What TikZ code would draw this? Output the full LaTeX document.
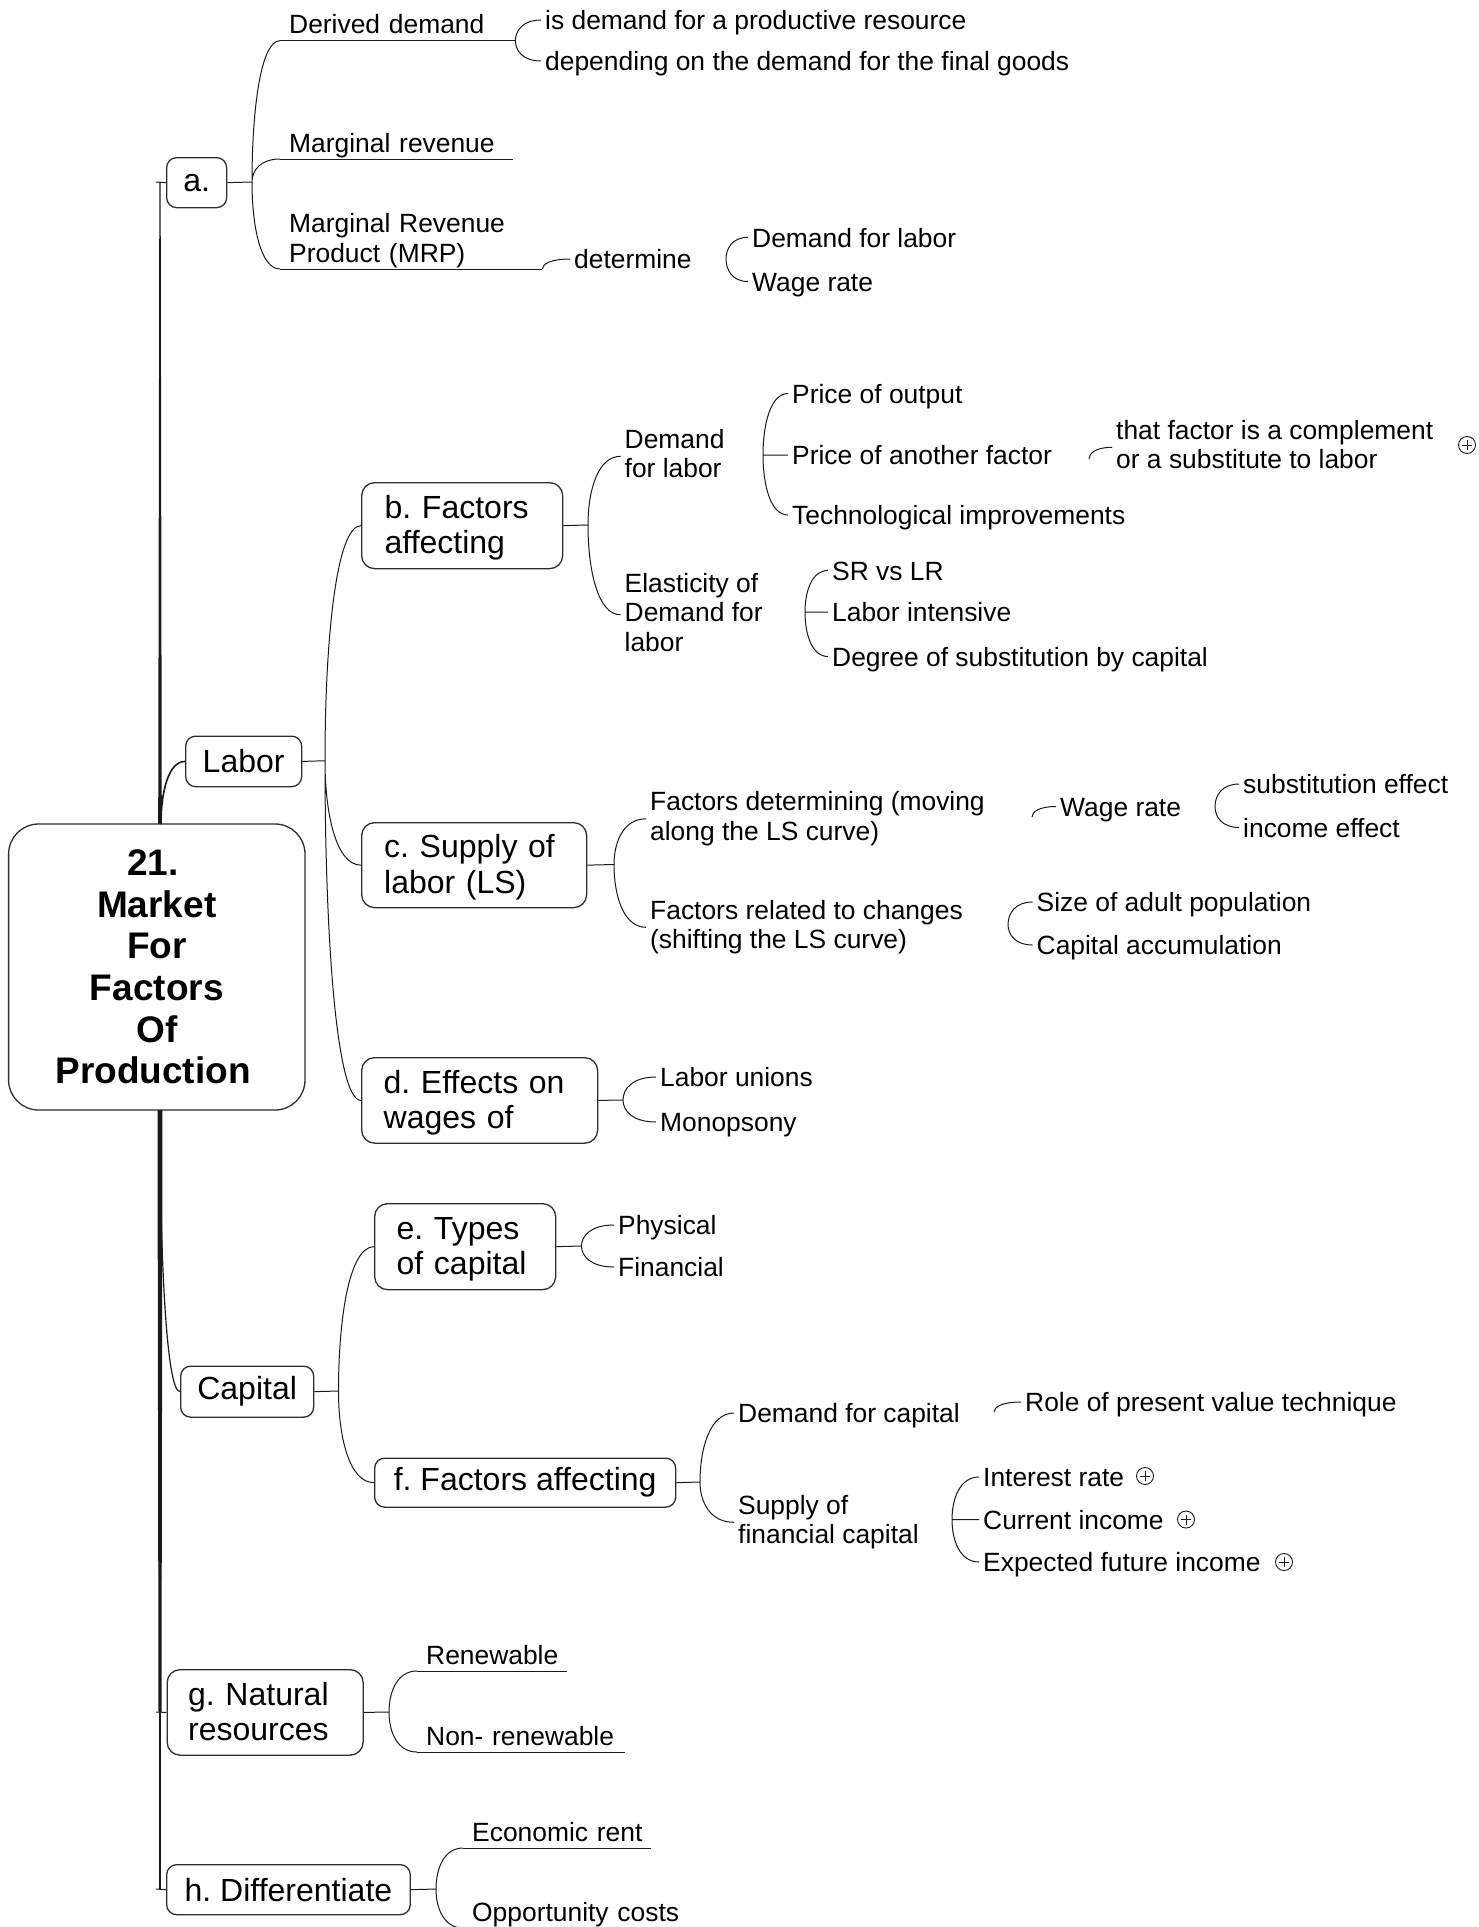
\documentclass[tikz,border=0pt]{standalone}
\usepackage{fontspec}
\setmainfont{Liberation Sans}
\usetikzlibrary{calc}
\definecolor{lc}{HTML}{1A1A1A}
\definecolor{bc}{HTML}{2E2E2E}
\newcommand\mmleaf{\fontsize{26.4pt}{29.5pt}\selectfont}
\newcommand\mmbox{\fontsize{32pt}{35.5pt}\selectfont}
\newcommand\mmroot{\fontsize{37pt}{41.6pt}\selectfont\bfseries}
\newcommand\ls{\rule[-5.7pt]{0pt}{25.2pt}}
\newcommand\bs{\rule[-6.9pt]{0pt}{34.5pt}}
% root lines sit slightly left of the box centre
\newcommand\rl[1]{#1\hspace*{7.5pt}}
\frenchspacing

\begin{document}
\begin{tikzpicture}[x=1pt,y=-1pt,
  con/.style={draw=lc, line width=1pt},
  twig/.style={to path={.. controls ($(\tikztostart)!0.5!(\tikztostart|-\tikztotarget)$) and ($(\tikztotarget)!0.7!(\tikztostart|-\tikztotarget)$) .. (\tikztotarget)}},
  box/.style={draw=bc, line width=1.3pt, rounded corners=10pt, anchor=north west, inner sep=0pt, font=\mmbox},
  boxm/.style 2 args={box, rounded corners=13pt, align=left, inner xsep=#1, text width=#2},
  root/.style={draw=bc, line width=1.3pt, rounded corners=30pt, minimum width=296.4pt, minimum height=286pt, align=center, font=\mmroot, inner sep=0pt},
  leaf/.style={anchor=west, inner xsep=4pt, inner ysep=0pt, font=\mmleaf, text height=21.5pt, text depth=1.7pt},
  leafm/.style={anchor=west, inner xsep=4pt, inner ysep=0pt, font=\mmleaf, align=left, yshift=-2.8pt},
  uline/.style={anchor=south west, inner xsep=9pt, inner ysep=1pt, font={\mmleaf\hyphenpenalty=10000\exhyphenpenalty=10000}, align=left, text width=#1},
  circplus/.style={circle, draw=lc, line width=0.9pt, minimum size=17pt, inner sep=0pt,
    path picture={\draw[lc, line width=0.9pt]
      ([xshift=-5pt]path picture bounding box.center) -- ([xshift=5pt]path picture bounding box.center)
      ([yshift=-5pt]path picture bounding box.center) -- ([yshift=5pt]path picture bounding box.center);}}
]
\fill[white] (0,0) rectangle (1479,1927);
\useasboundingbox (0,0) rectangle (1479,1927);

% ---------- trunk ----------
\fill[lc] (158.2,824) -- (161.8,824) -- (160.65,182) -- (159.35,182) -- cycle;
\fill[lc] (157.5,1110) -- (162.5,1110) -- (161.5,1712) -- (158.5,1712) -- cycle;
\fill[lc] (158.7,1110) -- (161.3,1110) -- (160.8,1889) -- (159.2,1889) -- cycle;
\coordinate (ta) at (156,182);
\coordinate (tg) at (156,1712);
\coordinate (th) at (156,1889);
\coordinate (rtop) at (161,824);
\coordinate (rbot) at (160,1110);

% ---------- central topic ----------
\node[root] (root) at (156.8,967) {\rl{21.}\\\rl{Market}\\\rl{For}\\\rl{Factors}\\\rl{Of}\\\rl{Production}};

% ---------- main topics ----------
\node[box, minimum width=60pt, minimum height=50pt] (a) at (166,157) {a.};
\node[box, minimum width=116pt, minimum height=50.5pt] (labor) at (185,735.5) {Labor};
\node[boxm={23pt}{155pt}, minimum height=86pt] (b) at (361,482) {\bs b. Factors\\affecting\bs};
\node[boxm={22.5pt}{180pt}, minimum height=85pt] (c) at (361,822) {\bs c. Supply of\\labor (LS)\bs};
\node[boxm={22pt}{192pt}, minimum height=85.5pt] (d) at (361,1057) {\bs d. Effects on\\wages of\bs};
\node[box, minimum width=133pt, minimum height=51pt] (capital) at (180,1365.5) {Capital};
\node[boxm={22pt}{137pt}, minimum height=86pt] (e) at (374,1203) {\bs e. Types\\of capital\bs};
\node[box, minimum width=301pt, minimum height=49pt] (f) at (374,1457.5) {f. Factors affecting};
\node[boxm={21pt}{154pt}, minimum height=85.5pt] (g) at (166.5,1669) {\bs g. Natural\\resources\bs};
\node[box, minimum width=243.6pt, minimum height=50pt] (h) at (166,1864) {h. Differentiate};

% ---------- fork points ----------
\coordinate (fa) at (252,182);
\coordinate (fdet) at (726,259);
\coordinate (flab) at (325,760.75);
\coordinate (fb) at (588,525);
\coordinate (fdl) at (763,455);
\coordinate (fpaf) at (1089,459);
\coordinate (fel) at (805,612);
\coordinate (fc) at (614,864.5);
\coordinate (ffd) at (1032,817);
\coordinate (fwr) at (1215,806.5);
\coordinate (ffr) at (1008,924.5);
\coordinate (fd) at (623,1100);
\coordinate (fcap) at (338.5,1391);
\coordinate (fe) at (581.5,1246);
\coordinate (ff) at (700,1482);
\coordinate (fdc) at (994,1412);
\coordinate (fsc) at (952,1519.5);
\coordinate (fg) at (389,1712);
\coordinate (fh) at (436,1889);

% ---------- a. ----------
\node[uline=217pt] (dd) at (280,40.7) {\ls\mbox{Derived demand}};
\node[uline=215pt] (mr) at (280,159) {\ls\mbox{Marginal revenue}};
\node[uline=244pt] (mrp) at (280,269) {\ls Marginal Revenue\\Product (MRP)\ls};
\node[leaf] (isd) at (541,20) {is demand for a productive resource};
\node[leaf] (dep) at (541,61) {depending on the demand for the final goods};
\node[leaf] (det) at (570,259) {determine};
\node[leaf] (dfl) at (748,237.3) {Demand for labor};
\node[leaf] (wr1) at (748,281.5) {Wage rate};

% ---------- b. ----------
\node[leafm] (dl) at (620.5,453.5) {\ls Demand\\for labor\ls};
\node[leaf] (po) at (788,393.5) {Price of output};
\node[leaf] (paf) at (788,455) {Price of another factor};
\node[leaf] (ti) at (788,515) {Technological improvements};
\node[leafm] (tf) at (1112,444.5) {\ls that factor is a complement\\or a substitute to labor\ls};
\node[circplus] (p1) at (1467,445) {};
\node[leafm] (el) at (620.5,612) {\ls Elasticity of\\Demand for\\labor\ls};
\node[leaf] (sr) at (828,570.4) {SR vs LR};
\node[leaf] (li) at (828,612) {Labor intensive};
\node[leaf] (ds) at (828,656.5) {Degree of substitution by capital};

% ---------- c. ----------
\node[leafm] (fdm) at (646,816) {\ls Factors determining (moving\\along the LS curve)\ls};
\node[leafm] (frc) at (646,924.5) {\ls Factors related to changes\\(shifting the LS curve)\ls};
\node[leaf] (wr2) at (1056,806.5) {Wage rate};
\node[leaf] (se) at (1239,784) {substitution effect};
\node[leaf] (ie) at (1239,827.5) {income effect};
\node[leaf] (sap) at (1032.5,902) {Size of adult population};
\node[leaf] (ca) at (1032.5,945) {Capital accumulation};

% ---------- d. ----------
\node[leaf] (lu) at (656,1077) {Labor unions};
\node[leaf] (mo) at (656,1122) {Monopsony};

% ---------- e. / f. ----------
\node[leaf] (ph) at (614,1225) {Physical};
\node[leaf] (fi) at (614,1267) {Financial};
\node[leaf] (dc) at (734,1413) {Demand for capital};
\node[leafm] (sfc) at (734,1519.5) {\ls Supply of\\financial capital\ls};
\node[leaf] (rp) at (1021,1402) {Role of present value technique};
\node[leaf] (ir) at (979,1477) {Interest rate};
\node[leaf] (ci) at (979,1519.5) {Current income};
\node[leaf] (efi) at (979,1562) {Expected future income};
\node[circplus] (p2) at (1145,1476) {};
\node[circplus] (p3) at (1186,1519.5) {};
\node[circplus] (p4) at (1284,1562) {};

% ---------- g. / h. ----------
\node[uline=132pt] (ren) at (417,1671) {\ls\mbox{Renewable}};
\node[uline=190pt] (nren) at (417,1752) {\ls\mbox{Non- renewable}};
\node[uline=170pt] (er) at (463,1848) {\ls\mbox{Economic rent}};
\node[uline=222pt] (oc) at (463,1928) {\ls\mbox{Opportunity costs}};

% ---------- connectors ----------
\draw[con] (ta) -- (a.west);
\draw[con] (a.east) -- (fa);
\draw[con] (fa) to[twig] (dd.south west) (fa) to[twig] (mr.south west) (fa) to[twig] (mrp.south west);
\draw[con] (dd.south west) -- (dd.south east) (mr.south west) -- (mr.south east) (mrp.south west) -- (mrp.south east);
\draw[con] (dd.south east) to[twig] (isd.west) (dd.south east) to[twig] (dep.west);
\draw[con] (mrp.south east) to[twig] (det.west);
\draw[con] (fdet) to[twig] (dfl.west) (fdet) to[twig] (wr1.west);

\draw[con, line width=1.6pt] (rtop) to[twig] (labor.west);
\draw[con] (labor.east) -- (flab);
\draw[con] (flab) to[twig] (b.west) (flab) to[twig] (c.west) (flab) to[twig] (d.west);
\draw[con] (b.east) -- (fb);
\draw[con] (fb) to[twig] (dl.west) (fb) to[twig] (el.west);
\draw[con] (fdl) to[twig] (po.west) (fdl) to[twig] (paf.west) (fdl) to[twig] (ti.west);
\draw[con] (fpaf) to[twig] (tf.west);
\draw[con] (fel) to[twig] (sr.west) (fel) to[twig] (li.west) (fel) to[twig] (ds.west);
\draw[con] (c.east) -- (fc);
\draw[con] (fc) to[twig] (fdm.west) (fc) to[twig] (frc.west);
\draw[con] (ffd) to[twig] (wr2.west);
\draw[con] (fwr) to[twig] (se.west) (fwr) to[twig] (ie.west);
\draw[con] (ffr) to[twig] (sap.west) (ffr) to[twig] (ca.west);
\draw[con] (d.east) -- (fd);
\draw[con] (fd) to[twig] (lu.west) (fd) to[twig] (mo.west);

\draw[con, line width=1.2pt] (rbot) to[twig] (capital.west);
\draw[con] (capital.east) -- (fcap);
\draw[con] (fcap) to[twig] (e.west) (fcap) to[twig] (f.west);
\draw[con] (e.east) -- (fe);
\draw[con] (fe) to[twig] (ph.west) (fe) to[twig] (fi.west);
\draw[con] (f.east) -- (ff);
\draw[con] (ff) to[twig] (dc.west) (ff) to[twig] (sfc.west);
\draw[con] (fdc) to[twig] (rp.west);
\draw[con] (fsc) to[twig] (ir.west) (fsc) to[twig] (ci.west) (fsc) to[twig] (efi.west);

\draw[con] (tg) -- (g.west);
\draw[con] (g.east) -- (fg);
\draw[con] (fg) to[twig] (ren.south west) (fg) to[twig] (nren.south west);
\draw[con] (ren.south west) -- (ren.south east) (nren.south west) -- (nren.south east);
\draw[con] (th) -- (h.west);
\draw[con] (h.east) -- (fh);
\draw[con] (fh) to[twig] (er.south west) (fh) to[twig] (oc.south west);
\draw[con] (er.south west) -- (er.south east) (oc.south west) -- (oc.south east);
\end{tikzpicture}
\end{document}
